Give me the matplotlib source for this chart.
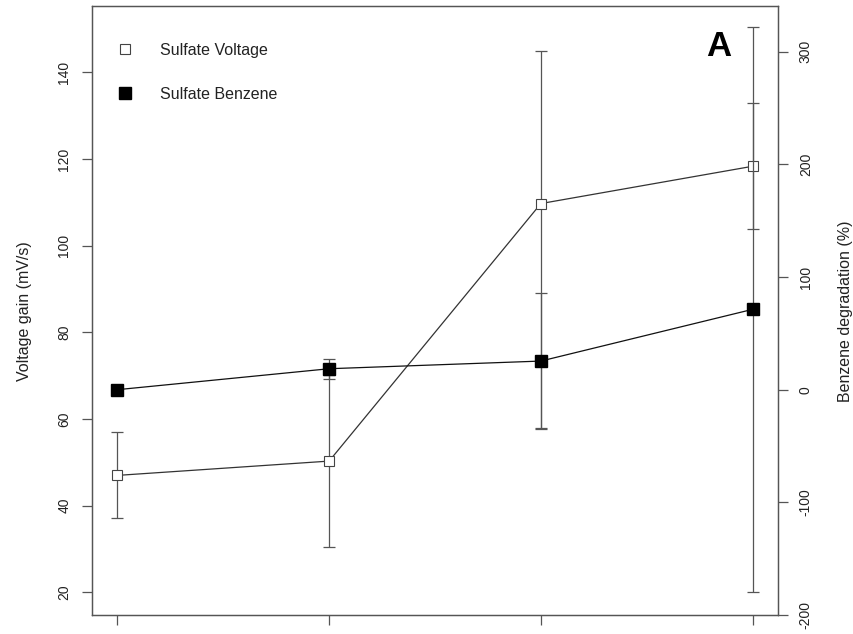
import matplotlib
matplotlib.use("Agg")
import matplotlib.pyplot as plt
from matplotlib.lines import Line2D

# sampling points along the x axis (no tick labels on this panel)
x_pos = [1, 2, 3, 4]

# voltage gain (mV/s) with lower / upper error
voltage = [47.0, 50.3, 109.7, 118.3]
voltage_err_lo = [9.9, 19.8, 51.8, 14.5]
voltage_err_hi = [9.9, 19.8, 35.3, 14.5]

# benzene degradation (%) with symmetric error
benzene = [0.0, 18.6, 25.4, 71.3]
benzene_err = [0.0, 9.0, 60.0, 251.0]

left_ticks = [20, 40, 60, 80, 100, 120, 140]
right_ticks = [-200, -100, 0, 100, 200, 300]

FRAME = "#555555"
LINE = "#333333"
TEXT = "#222222"

plt.rcParams.update({
    "font.family": ["Liberation Sans", "DejaVu Sans"],
    "font.size": 10,
    "text.color": TEXT,
    "axes.edgecolor": FRAME,
    "axes.linewidth": 0.9,
    "xtick.color": FRAME,
    "ytick.color": FRAME,
    "xtick.labelcolor": TEXT,
    "ytick.labelcolor": TEXT,
})

fig = plt.figure(figsize=(8.54, 6.34), dpi=100, facecolor="white")
ax = fig.add_axes([92 / 854, 19 / 634, 686 / 854, 608.7 / 634])
ax2 = ax.twinx()

# voltage series on the left axis
ax.errorbar(x_pos, voltage, yerr=[voltage_err_lo, voltage_err_hi],
            fmt="none", ecolor="#555555", elinewidth=0.9, capsize=4,
            capthick=0.9, zorder=2)
ax.plot(x_pos, voltage, color=LINE, linewidth=0.9, marker="s",
        markersize=7.5, markerfacecolor="white", markeredgecolor="#444444",
        markeredgewidth=0.8, zorder=3)

# benzene series on the right axis
ax2.errorbar(x_pos, benzene, yerr=benzene_err, fmt="none",
             ecolor="#555555", elinewidth=0.9, capsize=4, capthick=0.9,
             zorder=2)
ax2.plot(x_pos, benzene, color="#111111", linewidth=0.9, marker="s",
         markersize=8, markerfacecolor="black", markeredgecolor="black",
         zorder=3)

ax.set_xlim(0.88, 4.12)
ax.set_ylim(14.8, 155.2)
ax2.set_ylim(-200, 340.3)

ax.set_xticks(x_pos)
ax.set_xticklabels([])
ax.set_yticks(left_ticks)
ax.set_yticklabels([str(t) for t in left_ticks], rotation=90, va="center")
ax2.set_yticks(right_ticks)
ax2.set_yticklabels([str(t) for t in right_ticks], rotation=90, va="center")

ax.tick_params(axis="x", direction="out", length=7, width=0.9)
ax.tick_params(axis="y", direction="out", length=7, width=0.9, pad=8,
               labelsize=10)
ax2.tick_params(axis="y", direction="out", length=7, width=0.9, pad=8,
                labelsize=10)

# axis titles, centred on the plot height
fig.text(25 / 854, 1 - 311 / 634, "Voltage gain (mV/s)", fontsize=11.5,
         rotation=90, ha="center", va="center", color=TEXT)
fig.text(846 / 854, 1 - 311 / 634, "Benzene degradation (%)", fontsize=11.5,
         rotation=90, ha="center", va="center", color=TEXT)

for a in (ax, ax2):
    for s in a.spines.values():
        s.set_color(FRAME)
        s.set_linewidth(0.9)

# panel letter
ax.text(0.913, 0.934, "A", transform=ax.transAxes, fontsize=25,
        fontweight="bold", ha="center", va="center", color="black")

handles = [
    Line2D([], [], linestyle="none", marker="s", markersize=7.5,
           markerfacecolor="white", markeredgecolor="#444444",
           markeredgewidth=0.8),
    Line2D([], [], linestyle="none", marker="s", markersize=8,
           markerfacecolor="black", markeredgecolor="black"),
]
ax2.legend(handles, ["Sulfate Voltage", "Sulfate Benzene"],
           loc="upper left", bbox_to_anchor=(117.5 / 854, 1 - 42.5 / 634),
           bbox_transform=fig.transFigure, frameon=False, fontsize=11.5,
           handlelength=1.0, handletextpad=1.65, labelspacing=1.82,
           borderpad=0, borderaxespad=0)

fig.savefig("out.png", dpi=100, facecolor="white")
